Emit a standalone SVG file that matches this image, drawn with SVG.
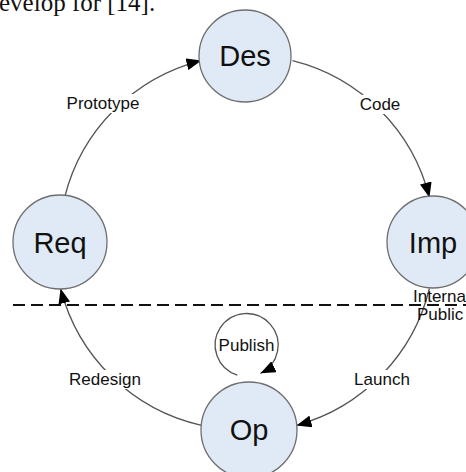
<svg xmlns="http://www.w3.org/2000/svg" width="466" height="472" viewBox="0 0 466 472">
<style>
.node{fill:#e0eaf7;stroke:#6e6e6e;stroke-width:1.3}
.ntext{font-family:"Liberation Sans",Arial,sans-serif;font-size:29px;fill:#111;text-anchor:middle}
.lbl{font-family:"Liberation Sans",Arial,sans-serif;font-size:17px;fill:#111;text-anchor:middle}
.lblbg{fill:#fff}
.edge{fill:none;stroke:#555;stroke-width:1.3}
</style>
<defs>
<marker id="arr" markerUnits="userSpaceOnUse" markerWidth="16" markerHeight="12" viewBox="0 0 16 12" refX="15" refY="6" orient="auto">
<path d="M0,0 L15,6 L0,12 z" fill="#000"/>
</marker>
</defs>
<rect width="466" height="472" fill="#fff"/>
<text x="-1" y="11" font-family="Liberation Serif,'Times New Roman',serif" font-size="25" fill="#111">evelop for [14].</text>
<line x1="13" y1="305" x2="466" y2="305" stroke="#111" stroke-width="2" stroke-dasharray="12,6"/>
<g id="connectors">
<path class="edge" d="M64.6,197.5 A188,188 0 0 1 201.5,60.6" marker-end="url(#arr)"/>
<path class="edge" d="M292.5,60.6 A188,188 0 0 1 429.4,197.5" marker-end="url(#arr)"/>
<path class="edge" d="M429.4,288.5 A188,188 0 0 1 296.5,425.4" marker-end="url(#arr)"/>
<path class="edge" d="M201.5,425.4 A188,188 0 0 1 60.6,288.5" marker-end="url(#arr)"/>
<path class="edge" d="M237.3,375.1 A31.5,31.5 0 1 1 260.5,373.3" marker-end="url(#arr)"/>
<rect class="lblbg" x="65" y="94" width="77" height="19"/>
<text class="lbl" x="103" y="109">Prototype</text>
<rect class="lblbg" x="358" y="95" width="44" height="19"/>
<text class="lbl" x="380" y="110">Code</text>
<rect class="lblbg" x="68" y="370" width="74" height="19"/>
<text class="lbl" x="105" y="385">Redesign</text>
<rect class="lblbg" x="352" y="370" width="60" height="19"/>
<text class="lbl" x="382" y="385">Launch</text>
<text class="lbl" x="246.5" y="351">Publish</text>
<text class="lbl" x="413" y="302" text-anchor="start" style="text-anchor:start">Interna</text>
<text class="lbl" x="417" y="320" style="text-anchor:start">Public</text>
</g>
<g id="des"><circle class="node" cx="245" cy="56" r="46"/><text class="ntext" x="245" y="66">Des</text></g>
<g id="req"><circle class="node" cx="60" cy="242" r="47"/><text class="ntext" x="60" y="253">Req</text></g>
<g id="imp"><circle class="node" cx="433" cy="242" r="46"/><text class="ntext" x="433" y="253">Imp</text></g>
<g id="op"><circle class="node" cx="249" cy="430" r="48"/><text class="ntext" x="249" y="440">Op</text></g>
</svg>
